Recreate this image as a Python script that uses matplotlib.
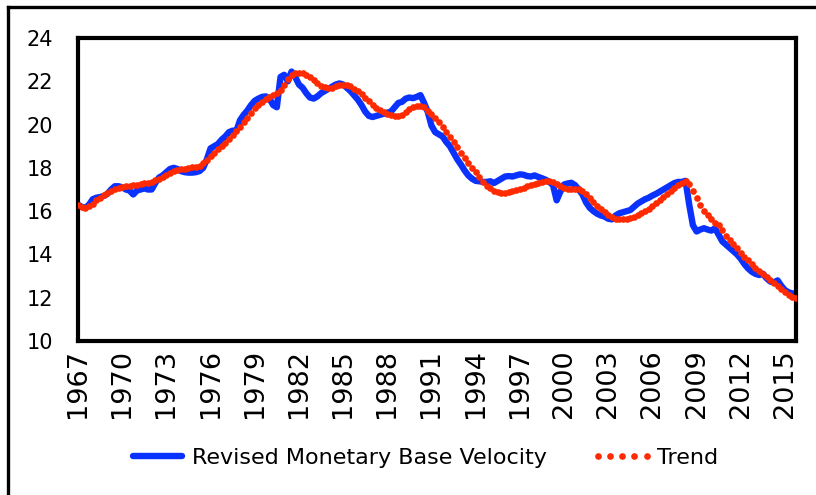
import numpy as np
import matplotlib
matplotlib.use('Agg')
import matplotlib.pyplot as plt
from matplotlib.lines import Line2D

# quarterly values, 1967Q1 .. 2015Q4, one row per year
velocity = [
    16.30, 16.20, 16.15, 16.30,  # 1967
    16.55, 16.62, 16.65, 16.70,
    16.80, 17.00, 17.15, 17.15,
    17.10, 17.00, 16.95, 16.77,  # 1970
    16.95, 17.00, 17.05, 17.00,
    17.00, 17.30, 17.55, 17.65,
    17.80, 17.95, 18.00, 17.95,
    17.85, 17.80, 17.78, 17.78,
    17.80, 17.85, 18.00, 18.40,  # 1975
    18.90, 19.00, 19.10, 19.30,
    19.45, 19.65, 19.72, 19.70,
    20.20, 20.45, 20.65, 20.90,
    21.10, 21.20, 21.28, 21.30,
    21.20, 20.90, 20.80, 22.20,  # 1980
    22.30, 22.00, 22.45, 22.20,
    21.85, 21.70, 21.45, 21.25,
    21.20, 21.30, 21.45, 21.55,
    21.65, 21.75, 21.85, 21.90,
    21.85, 21.70, 21.55, 21.35,  # 1985
    21.15, 20.90, 20.60, 20.40,
    20.35, 20.40, 20.45, 20.50,
    20.55, 20.60, 20.80, 21.00,
    21.05, 21.20, 21.25, 21.22,
    21.28, 21.36, 21.00, 20.58,  # 1990
    19.95, 19.65, 19.55, 19.45,
    19.20, 19.00, 18.70, 18.40,
    18.15, 17.88, 17.65, 17.50,
    17.40, 17.38, 17.35, 17.35,
    17.38, 17.30, 17.40, 17.50,  # 1995
    17.60, 17.62, 17.60, 17.65,
    17.70, 17.68, 17.62, 17.60,
    17.65, 17.58, 17.52, 17.45,
    17.35, 17.20, 16.50, 16.90,
    17.23, 17.28, 17.31, 17.20,  # 2000
    17.00, 16.77, 16.40, 16.15,
    16.00, 15.88, 15.80, 15.75,
    15.65, 15.62, 15.80, 15.90,
    15.95, 16.00, 16.05, 16.20,
    16.35, 16.45, 16.55, 16.62,  # 2005
    16.72, 16.80, 16.90, 17.00,
    17.10, 17.20, 17.30, 17.35,
    17.35, 17.40, 16.30, 15.35,
    15.06, 15.15, 15.21, 15.15,
    15.10, 15.21, 14.90, 14.60,  # 2010
    14.45, 14.30, 14.15, 14.00,
    13.80, 13.55, 13.35, 13.20,
    13.10, 13.05, 13.11, 12.90,
    12.75, 12.70, 12.80, 12.55,
    12.35, 12.25, 12.20, 12.18,  # 2015
]

trend = [
    16.30, 16.20, 16.15, 16.25,  # 1967
    16.35, 16.50, 16.62, 16.75,
    16.85, 16.95, 17.00, 17.05,
    17.10, 17.15, 17.18, 17.20,  # 1970
    17.22, 17.24, 17.28, 17.32,
    17.36, 17.42, 17.50, 17.58,
    17.68, 17.76, 17.84, 17.90,
    17.94, 17.97, 18.00, 18.02,
    18.04, 18.10, 18.22, 18.38,  # 1975
    18.55, 18.70, 18.85, 19.00,
    19.15, 19.32, 19.50, 19.68,
    19.88, 20.10, 20.32, 20.55,
    20.75, 20.92, 21.05, 21.18,
    21.28, 21.36, 21.45, 21.62,  # 1980
    21.85, 22.10, 22.28, 22.36,
    22.40, 22.38, 22.30, 22.18,
    22.05, 21.92, 21.80, 21.72,
    21.67, 21.70, 21.76, 21.82,
    21.84, 21.82, 21.76, 21.66,  # 1985
    21.56, 21.42, 21.25, 21.08,
    20.92, 20.78, 20.66, 20.57,
    20.50, 20.44, 20.40, 20.38,
    20.45, 20.60, 20.72, 20.83,
    20.88, 20.88, 20.80, 20.64,  # 1990
    20.48, 20.30, 20.10, 19.88,
    19.65, 19.42, 19.20, 18.95,
    18.70, 18.45, 18.22, 18.00,
    17.80, 17.58, 17.36, 17.18,
    17.05, 16.95, 16.88, 16.85,  # 1995
    16.85, 16.88, 16.92, 16.98,
    17.02, 17.08, 17.14, 17.20,
    17.26, 17.30, 17.35, 17.38,
    17.38, 17.34, 17.26, 17.16,
    17.06, 17.00, 17.00, 17.02,  # 2000
    17.00, 16.92, 16.80, 16.62,
    16.42, 16.25, 16.10, 15.95,
    15.82, 15.72, 15.66, 15.65,
    15.65, 15.66, 15.68, 15.72,
    15.80, 15.90, 16.00, 16.12,  # 2005
    16.24, 16.36, 16.50, 16.64,
    16.78, 16.92, 17.06, 17.20,
    17.30, 17.38, 17.25, 16.95,
    16.62, 16.30, 16.02, 15.82,
    15.62, 15.47, 15.34, 15.15,  # 2010
    14.85, 14.65, 14.48, 14.32,
    14.05, 13.88, 13.72, 13.55,
    13.38, 13.22, 13.08, 12.95,
    12.80, 12.66, 12.52, 12.38,
    12.25, 12.12, 12.03, 11.97,  # 2015
]

first_year = 1967
tick_years = list(range(1967, 2016, 3))
y_ticks = [10, 12, 14, 16, 18, 20, 22, 24]

quarters = first_year + np.arange(len(velocity)) / 4.0

fig = plt.figure(figsize=(8.16, 4.95), dpi=100)
ax = fig.add_axes([78 / 816, 1 - 341 / 495, (796 - 78) / 816, (341 - 38) / 495])

ax.plot(quarters, velocity, color='#0a32ff', lw=4.6, solid_joinstyle='round',
        solid_capstyle='round', label='Revised Monetary Base Velocity', zorder=2)
ax.plot(quarters, trend, ls='none', marker='o', ms=4.8, mew=0,
        color='#ff2a00', label='Trend', zorder=3)

ax.set_xlim(first_year, quarters[-1])
ax.set_ylim(10, 24)
ax.set_xticks(tick_years)
ax.set_xticklabels([str(y) for y in tick_years], rotation=90, fontsize=19.5)
ax.set_yticks(y_ticks)
ax.set_yticklabels([str(v) for v in y_ticks], fontsize=15)
ax.tick_params(axis='both', length=0)
ax.tick_params(axis='y', pad=18)
ax.tick_params(axis='x', pad=6)
for s in ax.spines.values():
    s.set_linewidth(3)
    s.set_color('black')

# outer chart frame (cropped at right and bottom)
fig.add_artist(Line2D([8 / 816, 8 / 816], [-0.05, 1 - 7 / 495],
                      transform=fig.transFigure, color='black', lw=2.4))
fig.add_artist(Line2D([8 / 816, 1.05], [1 - 7 / 495, 1 - 7 / 495],
                      transform=fig.transFigure, color='black', lw=2.4))

fig.legend(loc='center', bbox_to_anchor=(422 / 816, 1 - 458 / 495), ncol=2,
           frameon=False, fontsize=16, handlelength=2.8, handletextpad=0.15,
           columnspacing=2.0, numpoints=5)

fig.savefig('out.png', dpi=100)
